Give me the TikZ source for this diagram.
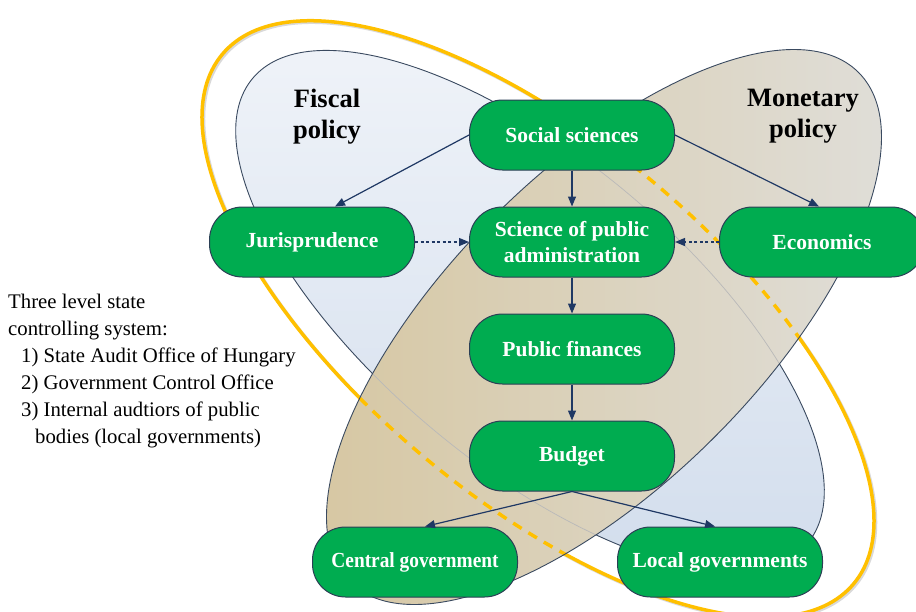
\documentclass[tikz,border=0pt]{standalone}
\usepackage{fontspec}
\setmainfont{Liberation Serif}
\usetikzlibrary{arrows.meta, positioning}
\definecolor{NodeGreen}{HTML}{00AC50}
\definecolor{NodeBorder}{HTML}{2B3F55}
\definecolor{ArrowNavy}{HTML}{1F3864}
\definecolor{FiscalLight}{HTML}{EEF2F8}
\definecolor{FiscalDark}{HTML}{D3DEED}
\definecolor{MonetaryTan}{HTML}{D6C6A0}
\definecolor{MonetaryMid}{HTML}{EEE9D6}
\definecolor{MonetaryGray}{HTML}{E0DFDB}
\definecolor{PolicyOrange}{HTML}{FFC000}
\definecolor{OutlineSlate}{HTML}{3A4A60}

\begin{document}
\begin{tikzpicture}[x=1pt, y=-1pt,
        topic/.style={draw=NodeBorder, line width=1pt, fill=NodeGreen, rounded corners=33pt,
            minimum width=205pt, minimum height=70pt, inner sep=2pt, text=white, align=center,
            font=\fontsize{21.5}{26}\selectfont\bfseries},
        link/.style={draw=ArrowNavy, line width=1.2pt, -{Triangle[length=10pt, width=8pt]}},
        hint/.style={link, dash pattern=on 3pt off 2.5pt},
        rim/.style={draw=OutlineSlate, line width=0.9pt},
        orbit/.style={draw=PolicyOrange, line width=3.5pt},
        policy/.style={font=\fontsize{26.5}{30.5}\selectfont\bfseries, align=center, anchor=north, inner sep=0pt}
    ]
    \useasboundingbox (0,0) rectangle (916,611);

    % Fiscal policy area
    \shade[shift={(530,311)}, rotate=-40, top color=FiscalLight, bottom color=FiscalDark] (0,0) ellipse (362 and 153);
    \draw[rim, shift={(530,311)}, rotate=-40] (0,0) ellipse (362 and 153);

    % Outer ring (with a soft shadow)
    \draw[gray!30, line width=3.5pt, shift={(539.5,320.5)}, rotate=-40] (0,0) ellipse (412 and 179);
    \draw[orbit, shift={(538,319)}, rotate=-40] (0,0) ellipse (412 and 179);

    % Monetary policy area
    \shade[shift={(604,327)}, rotate=45, left color=MonetaryTan, middle color=MonetaryMid, right color=MonetaryGray] (0,0) ellipse (360 and 156);
    \begin{scope}
        \clip[shift={(604,327)}, rotate=45] (0,0) ellipse (360 and 156);
        \draw[gray!55, line width=0.7pt, shift={(530,311)}, rotate=-40] (0,0) ellipse (362 and 153);
        \draw[orbit, dash pattern=on 10pt off 8pt, shift={(538,319)}, rotate=-40] (0,0) ellipse (412 and 179);
    \end{scope}
    \draw[rim, shift={(604,327)}, rotate=45] (0,0) ellipse (360 and 156);

    % Labels of the two areas
    \node[policy] (fiscal) at (327,89) {Fiscal\\policy};
    \node[policy] (monetary) at (803,89) {Monetary\\policy};

    % Sciences and levels
    \node[topic] (ss) at (572,135) {Social sciences};
    \node[topic] (jur) at (312,242) {Jurisprudence};
    \node[topic] (spa) at (572,242) {Science of public\\administration};
    \node[topic] (eco) at (822,242) {Economics};
    \node[topic] (pf) at (572,349) {Public finances};
    \node[topic] (bud) at (572,456) {Budget};
    \node[topic] (cg) at (415,562) {\scalebox{0.9}[1]{Central government}};
    \node[topic] (lg) at (720,562) {Local governments};

    % Connections
    \draw[link] (ss.west) -- ([xshift=23pt]jur.north);
    \draw[link] (ss.east) -- ([xshift=-3pt]eco.north);
    \draw[link] (ss.south) -- (spa.north);
    \draw[hint] (jur.east) -- (spa.west);
    \draw[hint] (eco.west) -- (spa.east);
    \draw[link] (spa.south) -- (pf.north);
    \draw[link] (pf.south) -- (bud.north);
    \draw[link] (bud.south) -- ([xshift=10pt]cg.north);
    \draw[link] (bud.south) -- ([xshift=-5pt]lg.north);

    % Controlling system note
    \node[anchor=north west, inner sep=0pt, align=left, font=\fontsize{20.75}{27}\selectfont] (note) at (8,294)
        {Three level state\\
         controlling system:\\
         \hspace*{13pt}1) State Audit Office of Hungary\\
         \hspace*{13pt}2) Government Control Office\\
         \hspace*{13pt}3) Internal audtiors of public\\
         \hspace*{27pt}bodies (local governments)};
\end{tikzpicture}
\end{document}
